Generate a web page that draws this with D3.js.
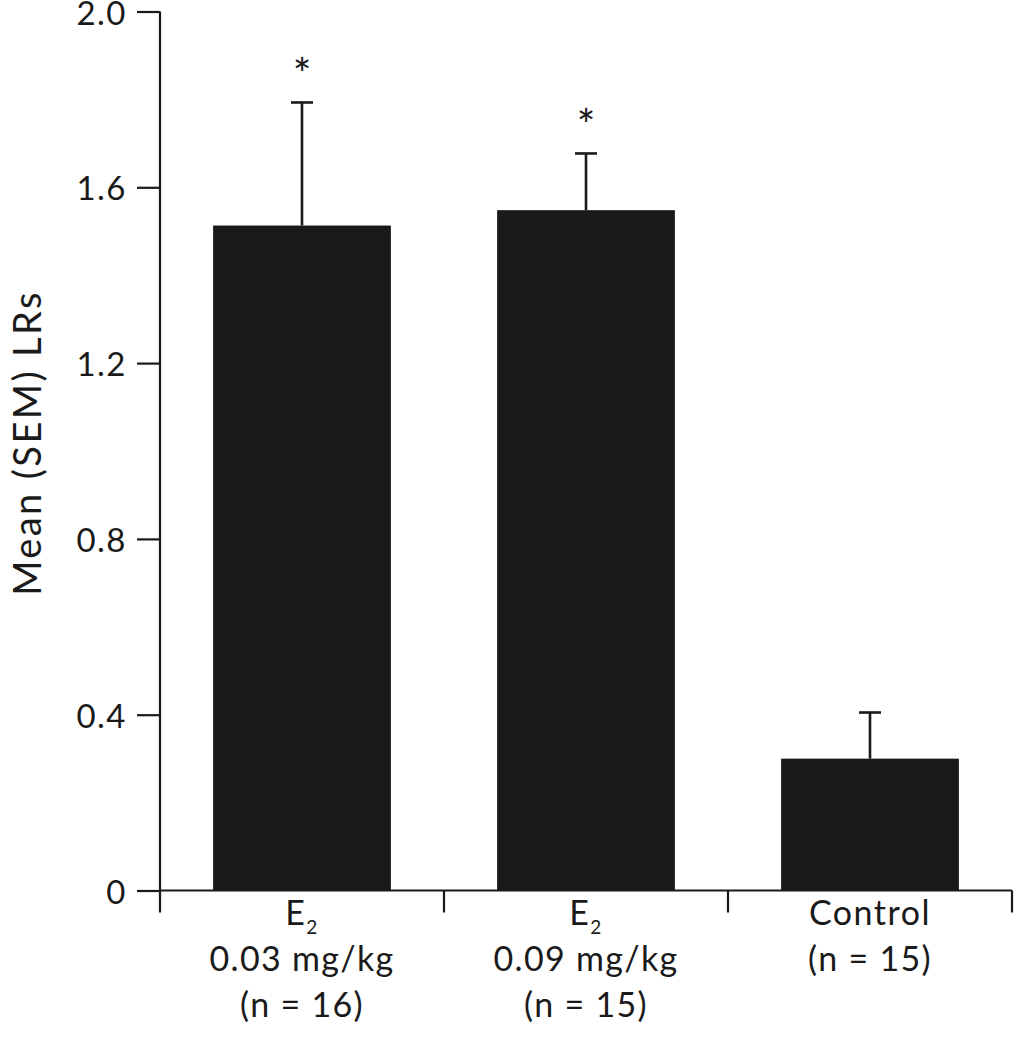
<!DOCTYPE html>
<html>
<head>
<meta charset="utf-8">
<script src="https://cdn.jsdelivr.net/npm/d3@7"></script>
<style>
  html, body { margin: 0; padding: 0; background: #fff; }
  svg text { font-family: Lato, "Open Sans", sans-serif; fill: #1a1a1a; }
</style>
</head>
<body>
<svg id="chart" width="1014" height="1050"></svg>
<script>
// ---- data ----
const categories = ["E2 0.03", "E2 0.09", "Control"];
const labelLine1 = ["E", "E", "Control"];
const labelSub = ["2", "2", ""];
const labelLine2 = ["0.03 mg/kg", "0.09 mg/kg", "(n = 15)"];
const labelLine3 = ["(n = 16)", "(n = 15)", ""];
const means = [1.513, 1.548, 0.300];
const errTops = [1.793, 1.677, 0.405];
const sigMarks = ["*", "*", ""];
const yTicks = [0, 0.4, 0.8, 1.2, 1.6, 2.0];
const yTickLabels = ["0", "0.4", "0.8", "1.2", "1.6", "2.0"];
const yTitle = "Mean (SEM) LRs";

// ---- layout ----
const svg = d3.select("#chart");
const plotLeft = 160, plotRight = 1012, plotTop = 11.5, zeroY = 890.5;
const ink = "#1a1a1a";

const x = d3.scaleBand().domain(categories).range([plotLeft, plotRight]).paddingInner(0).paddingOuter(0);
const y = d3.scaleLinear().domain([0, 2.0]).range([zeroY, plotTop]);
const barW = x.bandwidth() * 0.626;

// bars
svg.append("g").selectAll("rect").data(categories).join("rect")
  .attr("x", (d) => x(d) + x.bandwidth() / 2 - barW / 2)
  .attr("y", (d, i) => y(means[i]))
  .attr("width", barW)
  .attr("height", (d, i) => zeroY - y(means[i]))
  .attr("fill", ink);

// error bars (upper only)
const eg = svg.append("g").attr("stroke", ink).attr("stroke-width", 2.6);
eg.selectAll("line.v").data(categories).join("line").attr("class", "v")
  .attr("x1", (d) => x(d) + x.bandwidth() / 2).attr("x2", (d) => x(d) + x.bandwidth() / 2)
  .attr("y1", (d, i) => y(means[i])).attr("y2", (d, i) => y(errTops[i]));
eg.selectAll("line.c").data(categories).join("line").attr("class", "c")
  .attr("x1", (d) => x(d) + x.bandwidth() / 2 - 11).attr("x2", (d) => x(d) + x.bandwidth() / 2 + 11)
  .attr("y1", (d, i) => y(errTops[i])).attr("y2", (d, i) => y(errTops[i]));

// significance marks
svg.append("g").selectAll("text").data(categories).join("text")
  .attr("x", (d) => x(d) + x.bandwidth() / 2)
  .attr("y", (d, i) => y(errTops[i]) - 12)
  .attr("text-anchor", "middle")
  .attr("font-size", 44)
  .text((d, i) => sigMarks[i]);

// y axis
const yAxis = d3.axisLeft(y).tickValues(yTicks).tickSize(23).tickPadding(10)
  .tickFormat((d, i) => yTickLabels[i]);
const yg = svg.append("g").attr("transform", `translate(${plotLeft},0)`).call(yAxis);
yg.select(".domain").remove();
yg.selectAll(".tick line").attr("stroke", ink).attr("stroke-width", 2.2);
yg.selectAll(".tick text").attr("font-size", 33).attr("font-family", "Lato").attr("fill", ink)
  .attr("letter-spacing", 1.5).attr("dy", "0.38em");
svg.append("line").attr("x1", plotLeft).attr("x2", plotLeft).attr("y1", plotTop).attr("y2", zeroY + 22)
  .attr("stroke", ink).attr("stroke-width", 2.2);

// x axis
svg.append("line").attr("x1", plotLeft).attr("x2", plotRight).attr("y1", zeroY).attr("y2", zeroY)
  .attr("stroke", ink).attr("stroke-width", 2.2);
const boundaries = categories.map((d) => x(d) + x.bandwidth()).slice(0, -1).concat([plotRight]);
svg.append("g").selectAll("line").data(boundaries).join("line")
  .attr("x1", (d) => d).attr("x2", (d) => d)
  .attr("y1", zeroY).attr("y2", zeroY + 22)
  .attr("stroke", ink).attr("stroke-width", 2.2);

// x labels
const xl = svg.append("g").selectAll("g").data(categories).join("g")
  .attr("transform", (d) => `translate(${x(d) + x.bandwidth() / 2},0)`);
const t1 = xl.append("text").attr("y", 925).attr("text-anchor", "middle")
  .attr("font-size", 34).attr("letter-spacing", 1.5);
t1.append("tspan").text((d, i) => labelLine1[i]);
t1.append("tspan").attr("font-size", 19).attr("dy", 9).text((d, i) => labelSub[i]);
xl.append("text").attr("y", 971).attr("text-anchor", "middle")
  .attr("font-size", 34).attr("letter-spacing", 1.3).text((d, i) => labelLine2[i]);
xl.append("text").attr("y", 1017).attr("text-anchor", "middle")
  .attr("font-size", 34).attr("letter-spacing", 1.3).text((d, i) => labelLine3[i]);

// y title
svg.append("text")
  .attr("transform", "translate(41,443) rotate(-90)")
  .attr("text-anchor", "middle")
  .attr("font-size", 38).attr("letter-spacing", 2.4)
  .text(yTitle);
</script>
</body>
</html>
